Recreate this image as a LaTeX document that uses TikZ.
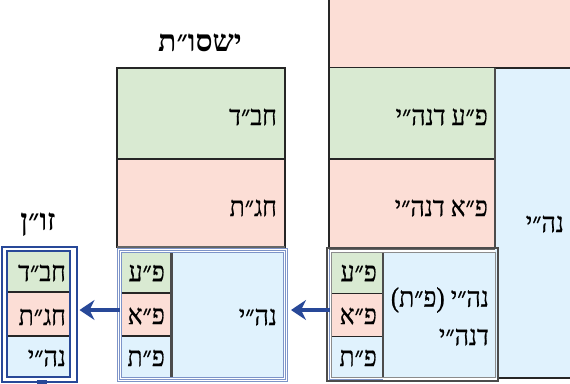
\documentclass[tikz,border=0pt]{standalone}
\usepackage{fontspec}
\setmainfont{Liberation Serif}
\newfontfamily\hebfont[Script=Hebrew, FakeStretch=0.88, FakeBold=0.6]{Liberation Serif}
\newfontfamily\hebtitle[Script=Hebrew]{Liberation Serif}
\TeXXeTstate=1
\usetikzlibrary{arrows.meta}
\definecolor{cgreen}{RGB}{217,234,210}
\definecolor{cpink}{RGB}{252,222,214}
\definecolor{cblue}{RGB}{224,242,253}
\definecolor{fblue}{RGB}{40,72,152}
\definecolor{lblue}{RGB}{125,148,200}
\newcommand\heb[1]{\beginR #1\endR}
\tikzset{
  box/.style={anchor=north west, inner sep=0pt, outer sep=0pt, draw=black!85, line width=1.6pt},
  plain/.style={anchor=north west, inner sep=0pt, outer sep=0pt, draw=none},
  lbl/.style={font=\hebfont\fontsize{28}{30}\selectfont, anchor=east, inner sep=0pt},
  ttl/.style={font=\hebtitle\bfseries\fontsize{30}{32}\selectfont, inner sep=0pt},
  hatch/.style={draw=black!70, line width=2.6pt, dash pattern=on 0.5pt off 0.5pt},
  sep/.style={draw=black!85, line width=1.6pt},
  arr/.style={draw=fblue, line width=4.5pt, -{Stealth[length=15pt,width=20pt,inset=5pt]}},
}
\begin{document}
\begin{tikzpicture}[x=1pt,y=-1pt]
\useasboundingbox (0,0) rectangle (570,383);

% ---------- right structure ----------
\node[plain, fill=cblue, minimum width=80pt, minimum height=310pt] (rCol) at (495,68) {};
\node[plain, fill=cpink, minimum width=250pt, minimum height=73pt] (rTop) at (329,-5) {};
\draw[sep] (rTop.north west) -- (rTop.south west) -- (rTop.south east);
\node[plain, fill=cgreen, minimum width=166pt, minimum height=91pt] (rG) at (329,68) {};
\node[plain, fill=cpink, minimum width=166pt, minimum height=89pt] (rP) at (329,159) {};
\draw[sep] (rG.north west) -- (rP.south west);
\draw[sep] (rG.south west) -- (rG.south east);
\draw[draw=black!60, line width=3pt] (rP.south west) -- (rP.south east);
\draw[hatch] (rG.north east) -- (rP.south east);
\draw[sep] (498,378) -- (rCol.south east);
\node[lbl] (rGt) at (488,117) {\heb{פ״ע דנה״י}};
\node[lbl] (rPt) at (488,208) {\heb{פ״א דנה״י}};
\node[lbl] (rColt) at (564,224) {\heb{נה״י}};

% right framed box
\node[plain, draw=black!70, line width=1.3pt, minimum width=171pt, minimum height=133pt] (rOut) at (327,248) {};
\node[plain, fill=cblue, draw=black!45, line width=1pt, minimum width=164pt, minimum height=125pt] (rIn) at (331,252) {};
\draw[draw=lblue, line width=1pt] (329.5,250) -- (329.5,379.5) -- (383,379.5);
\node[plain, fill=cgreen, minimum width=51pt, minimum height=41pt] (rFe) at (332,252.5) {};
\node[plain, fill=cpink, minimum width=51pt, minimum height=43pt] (rFa) at (332,293.5) {};
\node[plain, fill=cblue, minimum width=51pt, minimum height=40pt] (rFt) at (332,336.5) {};
\draw[sep] (rFe.south west) -- (rFe.south east);
\draw[sep] (rFa.south west) -- (rFa.south east);
\draw[hatch] (rFe.north east) -- (rFt.south east);
\node[lbl] (rFet) at (377,273) {\heb{פ״ע}};
\node[lbl] (rFat) at (377,316) {\heb{פ״א}};
\node[lbl] (rFtt) at (377,358) {\heb{פ״ת}};
\node[lbl] (rInt1) at (489,300) {\heb{נה״י (פ״ת)}};
\node[lbl] (rInt2) at (489,337) {\heb{דנה״י}};

% ---------- middle structure ----------
\node[ttl] (ttlM) at (200,43) {\heb{ישסו״ת}};
\node[box, fill=cgreen, minimum width=168pt, minimum height=91pt] (mG) at (117,68) {};
\node[box, fill=cpink, minimum width=168pt, minimum height=88pt] (mP) at (117,159) {};
\draw[draw=black!60, line width=3pt] (mP.south west) -- (mP.south east);
\node[lbl] (mGt) at (277,117) {\heb{חב״ד}};
\node[lbl] (mPt) at (277,208) {\heb{חג״ת}};
\node[plain, draw=lblue, line width=0.9pt, minimum width=170pt, minimum height=133pt] (mOut) at (117,248.5) {};
\node[plain, draw=lblue, line width=0.9pt, minimum width=166pt, minimum height=129pt] (mMid) at (119,250.5) {};
\node[plain, fill=cblue, draw=lblue, line width=0.9pt, minimum width=162pt, minimum height=125pt] (mIn) at (121,252.5) {};
\node[plain, fill=cgreen, minimum width=50pt, minimum height=40pt] (mFe) at (121.5,253) {};
\node[plain, fill=cpink, minimum width=50pt, minimum height=43pt] (mFa) at (121.5,293) {};
\node[plain, fill=cblue, minimum width=50pt, minimum height=41pt] (mFt) at (121.5,336) {};
\draw[sep] (mFe.south west) -- (mFe.south east);
\draw[sep] (mFa.south west) -- (mFa.south east);
\draw[hatch] (mFe.north east) -- (mFt.south east);
\node[lbl] (mFet) at (165,273) {\heb{פ״ע}};
\node[lbl] (mFat) at (165,316) {\heb{פ״א}};
\node[lbl] (mFtt) at (165,358) {\heb{פ״ת}};
\node[lbl] (mInt) at (277,317) {\heb{נה״י}};

% ---------- left structure ----------
\node[ttl] (ttlL) at (38,225) {\heb{זו״ן}};
\node[plain, draw=fblue, line width=2pt, minimum width=75pt, minimum height=135pt] (lOut) at (1.5,246.5) {};
\node[plain, draw=fblue, line width=2pt, minimum width=63pt, minimum height=126pt] (lIn) at (7,251) {};
\node[plain, fill=cgreen, minimum width=61pt, minimum height=40pt] (lG) at (8,252) {};
\node[plain, fill=cpink, minimum width=61pt, minimum height=44pt] (lP) at (8,292) {};
\node[plain, fill=cblue, minimum width=61pt, minimum height=40pt] (lB) at (8,336) {};
\draw[sep] (lG.south west) -- (lG.south east);
\draw[sep] (lP.south west) -- (lP.south east);
\node[lbl] (lGt) at (66,273) {\heb{חב״ד}};
\node[lbl] (lPt) at (66,317) {\heb{חג״ת}};
\node[lbl] (lBt) at (66,358) {\heb{נה״י}};
\node[plain, fill=fblue, minimum width=10pt, minimum height=4pt] (lTick) at (37,380) {};

% ---------- arrows ----------
\coordinate (aY) at (0,310);
\draw[arr, shorten <=-3pt, shorten >=3pt] (mOut.west |- aY) -- (lOut.east |- aY);
\draw[arr, shorten <=-3pt, shorten >=4pt] (rOut.west |- aY) -- (mOut.east |- aY);
\end{tikzpicture}
\end{document}
